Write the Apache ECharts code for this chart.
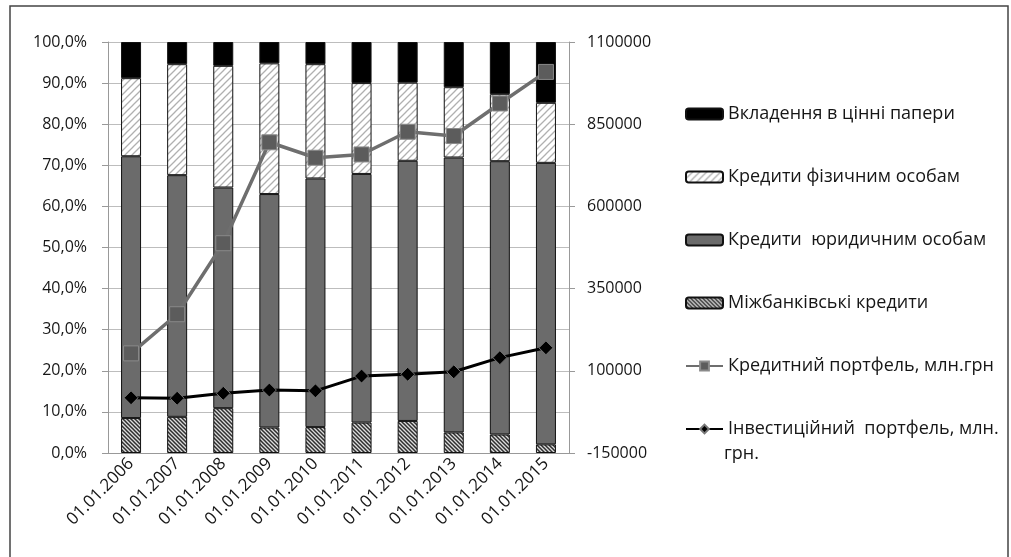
<!DOCTYPE html>
<html>
<head>
<meta charset="utf-8">
<script src="https://cdn.jsdelivr.net/npm/echarts@6/dist/echarts.min.js"></script>
<style>
  html, body { margin: 0; padding: 0; background: #fff; }
  #chart { width: 1011px; height: 557px; }
</style>
</head>
<body>
<div id="chart"></div>
<script>
// дати
var categories = ["01.01.2006", "01.01.2007", "01.01.2008", "01.01.2009", "01.01.2010",
  "01.01.2011", "01.01.2012", "01.01.2013", "01.01.2014", "01.01.2015"];

// структура, %
var interbank = [8.5, 8.8, 10.9, 6.2, 6.3, 7.4, 7.8, 5.0, 4.5, 2.1];
var legalEntities = [63.7, 58.8, 53.7, 56.8, 60.5, 60.5, 63.3, 66.9, 66.5, 68.5];
var individuals = [19.0, 27.0, 29.6, 31.8, 27.8, 22.1, 19.0, 17.1, 16.3, 14.6];
var securities = [8.8, 5.4, 5.8, 5.2, 5.4, 10.0, 9.9, 11.0, 12.7, 14.8];

// портфелі, млн.грн
var creditPortfolio = [153000, 272000, 488000, 795000, 748000, 758000, 827000, 814000, 913000, 1009000];
var investPortfolio = [18000, 16500, 31500, 41500, 39000, 84000, 89500, 97000, 140000, 170000];

var leftTicks = { min: 0, max: 100, step: 10 };
var rightTicks = { min: -150000, max: 1100000, step: 250000 };

var names = ["Вкладення в цінні папери", "Кредити фізичним особам", "Кредити  юридичним особам",
  "Міжбанківські кредити", "Кредитний портфель, млн.грн", "Інвестиційний портфель, млн. грн."];

function hatch(size, bg, fg, width, dir) {
  var c = document.createElement("canvas");
  c.width = size; c.height = size;
  var ctx = c.getContext("2d");
  ctx.fillStyle = bg;
  ctx.fillRect(0, 0, size, size);
  ctx.strokeStyle = fg;
  ctx.lineWidth = width;
  ctx.beginPath();
  if (dir > 0) {
    ctx.moveTo(-1, size + 1); ctx.lineTo(size + 1, -1);
    ctx.moveTo(-1, 1); ctx.lineTo(1, -1);
    ctx.moveTo(size - 1, size + 1); ctx.lineTo(size + 1, size - 1);
  } else {
    ctx.moveTo(-1, -1); ctx.lineTo(size + 1, size + 1);
    ctx.moveTo(size - 1, -1); ctx.lineTo(size + 1, 1);
    ctx.moveTo(-1, size - 1); ctx.lineTo(1, size + 1);
  }
  ctx.stroke();
  return { image: c, repeat: "repeat" };
}

var lightHatch = hatch(7, "#ffffff", "#b0b0b0", 1.3, 1);
var darkHatch = hatch(4, "#dcdcdc", "#2e2e2e", 1.5, -1);

var font = "'Open Sans', 'Noto Sans', sans-serif";
var textColor = "#161616";
var chart = echarts.init(document.getElementById("chart"), null, { renderer: "canvas" });

function barSeries(name, data, color) {
  return {
    name: name,
    type: "bar",
    stack: "s",
    barWidth: 20,
    data: data,
    itemStyle: { color: color, borderColor: "#111", borderWidth: 1 }
  };
}

chart.setOption({
  animation: false,
  backgroundColor: "#fff",
  textStyle: { fontFamily: font },
  grid: { left: 108, right: 442, top: 42, bottom: 104 },
  legend: {
    orient: "vertical",
    left: 680,
    top: 100,
    itemWidth: 37,
    itemHeight: 11,
    itemGap: 45,
    selectedMode: false,
    data: names,
    textStyle: { fontFamily: font, fontSize: 18, color: textColor },
    formatter: function (n) {
      // другий рядок підпису малюється окремо
      return n === names[5] ? "Інвестиційний  портфель, млн." : n;
    }
  },
  graphic: [
    {
      type: "rect",
      shape: { x: 10, y: 6, width: 998, height: 570 },
      style: { fill: null, stroke: "#444", lineWidth: 1.5 },
      silent: true
    },
    {
      type: "text",
      left: 724,
      top: 445,
      style: { text: "грн.", font: "18px " + font, fill: textColor }
    }
  ],
  xAxis: {
    type: "category",
    data: categories,
    axisLine: { lineStyle: { color: "#999" } },
    axisTick: { length: 6, lineStyle: { color: "#999" } },
    axisLabel: { rotate: 45, fontSize: 17, color: textColor, margin: 8 },
    splitLine: { show: false }
  },
  yAxis: [
    {
      type: "value",
      min: leftTicks.min,
      max: leftTicks.max,
      interval: leftTicks.step,
      axisLine: { show: true, lineStyle: { color: "#999" } },
      axisTick: { show: true, length: 6, lineStyle: { color: "#999" } },
      axisLabel: {
        fontSize: 16, color: textColor, margin: 21,
        formatter: function (v) { return v.toFixed(1).replace(".", ",") + "%"; }
      },
      splitLine: { lineStyle: { color: "#bdbdbd" } }
    },
    {
      type: "value",
      position: "right",
      min: rightTicks.min,
      max: rightTicks.max,
      interval: rightTicks.step,
      axisLine: { show: true, lineStyle: { color: "#999" } },
      axisTick: { show: true, length: 6, lineStyle: { color: "#999" } },
      axisLabel: {
        fontSize: 16, color: textColor, margin: 18,
        formatter: function (v) { return String(v); }
      },
      splitLine: { show: false }
    }
  ],
  series: [
    barSeries(names[3], interbank, darkHatch),
    barSeries(names[2], legalEntities, "#6b6b6b"),
    barSeries(names[1], individuals, lightHatch),
    barSeries(names[0], securities, "#000"),
    {
      name: names[4],
      type: "line",
      yAxisIndex: 1,
      data: creditPortfolio,
      symbol: "rect",
      symbolSize: 15,
      lineStyle: { color: "#6e6e6e", width: 3.5 },
      itemStyle: { color: "#5c5c5c", borderColor: "#8a8a8a", borderWidth: 1 },
      z: 5
    },
    {
      name: names[5],
      type: "line",
      yAxisIndex: 1,
      data: investPortfolio,
      symbol: "diamond",
      symbolSize: 14,
      lineStyle: { color: "#000", width: 3 },
      itemStyle: { color: "#000", borderColor: "#777", borderWidth: 1 },
      z: 6
    }
  ]
});
</script>
</body>
</html>
